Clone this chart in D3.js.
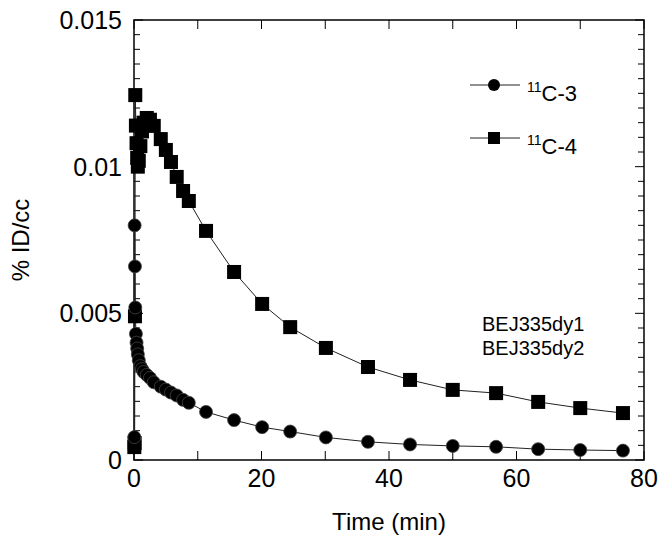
<!DOCTYPE html>
<html><head><meta charset="utf-8">
<script src="https://cdn.jsdelivr.net/npm/d3@7"></script>
<style>body{margin:0;background:#fff;} text{font-family:"Liberation Sans",Arial,sans-serif;fill:#000;}</style>
</head><body><svg id="c" width="664" height="544"></svg>
<script>
// Data
const c3Time = [0.05,0.1,0.15,0.2,0.3,0.4,0.5,0.6,0.75,1.0,1.25,1.5,2.0,2.5,3.1,4.2,5.0,5.8,6.7,7.7,8.6,11.3,15.7,20.1,24.5,30.1,36.7,43.3,50,56.8,63.4,70,76.7];
const c3Value = [0.00078,0.0080,0.0066,0.0052,0.0043,0.0040,0.0038,0.0036,0.0034,0.0032,0.0031,0.0030,0.0029,0.0028,0.00265,0.0025,0.0024,0.0023,0.0022,0.00205,0.00195,0.00164,0.00136,0.00112,0.00097,0.00077,0.00062,0.00053,0.00048,0.00045,0.00037,0.00034,0.00032];
const c4Time = [0.05,0.1,0.15,0.2,0.3,0.4,0.5,0.6,0.75,1.0,1.25,1.5,2.0,2.5,3.1,4.2,5.0,5.8,6.7,7.7,8.6,11.3,15.7,20.1,24.5,30.1,36.7,43.3,50,56.8,63.4,70,76.7];
const c4Value = [0.00044,0.00058,0.0049,0.01244,0.0114,0.0108,0.0103,0.0100,0.0102,0.0107,0.0112,0.0115,0.01166,0.0116,0.01139,0.01094,0.01057,0.01016,0.00965,0.00917,0.00883,0.00781,0.00641,0.00532,0.00453,0.00382,0.00317,0.00273,0.00239,0.00228,0.00198,0.00177,0.00160];
const xTicks = [0,20,40,60,80];
const yTicks = [0,0.005,0.01,0.015];
const yTickLabels = ["0","0.005","0.01","0.015"];
const seriesNames = ["C-3","C-4"];
const annotation = ["BEJ335dy1","BEJ335dy2"];

const svg = d3.select("#c");
const L=134,R=644,T=20,B=460;
const x = d3.scaleLinear().domain([0,80]).range([L,R]);
const y = d3.scaleLinear().domain([0,0.015]).range([B,T]);

// frame
svg.append("rect").attr("x",L).attr("y",T).attr("width",R-L).attr("height",B-T)
  .attr("fill","none").attr("stroke","#000").attr("stroke-width",1.5);

// ticks (inward)
const xMinor = d3.range(0,81,10);
const yMinor = d3.range(0,31).map(i=>i*0.0005);
const tg = svg.append("g").attr("stroke","#000").attr("stroke-width",1);
xMinor.forEach(v=>{
  tg.append("line").attr("x1",x(v)).attr("x2",x(v)).attr("y1",B).attr("y2",B-9);
  tg.append("line").attr("x1",x(v)).attr("x2",x(v)).attr("y1",T).attr("y2",T+9);
});
yMinor.forEach((v,i)=>{
  const len = (i%10===0)?9:6;
  tg.append("line").attr("x1",L).attr("x2",L+len).attr("y1",y(v)).attr("y2",y(v));
  tg.append("line").attr("x1",R).attr("x2",R-len).attr("y1",y(v)).attr("y2",y(v));
});

// tick labels
xTicks.forEach(v=>{
  svg.append("text").attr("x",x(v)).attr("y",B+27).attr("text-anchor","middle")
    .attr("font-size",25).text(v);
});
yTicks.forEach((v,i)=>{
  svg.append("text").attr("x",L-12).attr("y",y(v)+9).attr("text-anchor","end")
    .attr("font-size",25).text(yTickLabels[i]);
});

// axis titles
svg.append("text").attr("x",(L+R)/2).attr("y",530).attr("text-anchor","middle")
  .attr("font-size",24).text("Time (min)");
svg.append("text").attr("transform","translate(29,"+((T+B)/2)+") rotate(-90)")
  .attr("text-anchor","middle").attr("font-size",24).text("% ID/cc");

// lines
const line = d3.line().x(d=>x(d[0])).y(d=>y(d[1]));
const d3s = c3Time.map((t,i)=>[t,c3Value[i]]);
const d4s = c4Time.map((t,i)=>[t,c4Value[i]]);
svg.append("path").datum(d3s).attr("d",line).attr("fill","none").attr("stroke","#222").attr("stroke-width",1);
svg.append("path").datum(d4s).attr("d",line).attr("fill","none").attr("stroke","#222").attr("stroke-width",1);

// markers
const S=14;
svg.append("g").selectAll("rect").data(d4s).join("rect")
  .attr("x",d=>x(d[0])-S/2).attr("y",d=>y(d[1])-S/2).attr("width",S).attr("height",S).attr("fill","#000");
svg.append("g").selectAll("circle").data(d3s).join("circle")
  .attr("cx",d=>x(d[0])).attr("cy",d=>y(d[1])).attr("r",6.5).attr("fill","#000").attr("stroke","#444").attr("stroke-width",0.8);

// legend
const lg = svg.append("g");
[85,138].forEach((ly,i)=>{
  lg.append("line").attr("x1",470).attr("x2",520).attr("y1",ly).attr("y2",ly).attr("stroke","#222").attr("stroke-width",1);
  if(i===0) lg.append("circle").attr("cx",494).attr("cy",ly).attr("r",6).attr("fill","#000");
  else lg.append("rect").attr("x",488).attr("y",ly-6).attr("width",12).attr("height",12).attr("fill","#000");
  const t = lg.append("text").attr("x",527).attr("y",ly+16).attr("font-size",22);
  t.append("tspan").attr("font-size",14).attr("dy",-9).text("11");
  t.append("tspan").attr("dy",9).text(seriesNames[i]);
});

// annotation
annotation.forEach((s,i)=>{
  svg.append("text").attr("x",482).attr("y",331+i*24).attr("font-size",20).text(s);
});
</script></body></html>
